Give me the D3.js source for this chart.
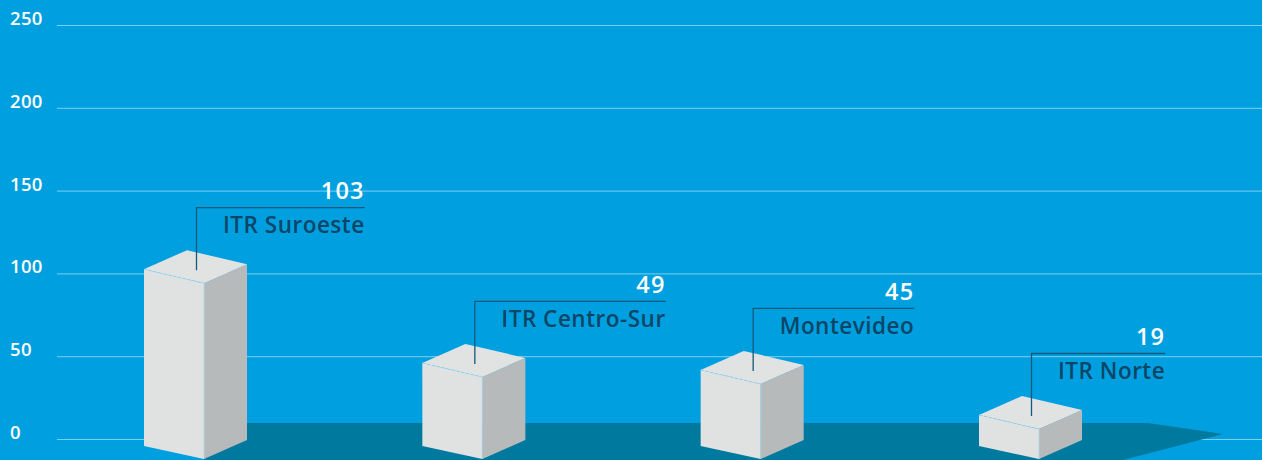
<!DOCTYPE html>
<html>
<head>
<meta charset="utf-8">
<script src="https://cdn.jsdelivr.net/npm/d3@7"></script>
<style>
  html, body { margin: 0; padding: 0; background: #00a0e0; }
  svg { display: block; }
  text { font-family: "Open Sans", Lato, sans-serif; }
</style>
</head>
<body>
<div class="svgContainer"></div>
<script>
/* chart data */
var categories = ["ITR Suroeste", "ITR Centro-Sur", "Montevideo", "ITR Norte"];
var values = [103, 49, 45, 19];
var tick_values = [0, 50, 100, 150, 200, 250];

var canvas_width = 1262,
    canvas_height = 460;

/* colours */
var bg_color = "#00a0e0",
    shadow_color = "#00799f",
    grid_color = "#7ccff2",
    front_color = "#e0e2e2",
    side_color = "#b7babb",
    top_color = "#e1e3e3",
    leader_color = "#16587a",
    label_color = "#0a4667";

/* box dimensions (pseudo 3d) */
var front_w = 60, front_drop = 14,
    side_w = 43, side_rise = 19;

var svg = d3.select(".svgContainer")
  .append("svg")
    .attr("width", canvas_width)
    .attr("height", canvas_height);

svg.append("rect")
  .attr("width", canvas_width)
  .attr("height", canvas_height)
  .attr("fill", bg_color);

/* scales: grid axis, and the slightly taller scale used by the 3d boxes */
var y = d3.scaleLinear()
  .domain([0, 250])
  .range([439, 25]);

var bar_y = d3.scaleLinear()
  .domain([0, 250])
  .range([448, 14]);

var x = d3.scalePoint()
  .domain(categories)
  .range([144, 979]);

/* gridlines + tick labels */
var grid = svg.append("g").attr("class", "grid");
grid.selectAll("line")
  .data(tick_values)
  .enter()
    .append("line")
      .attr("x1", 57)
      .attr("x2", canvas_width)
      .attr("y1", function(d) { return y(d) + 0.5; })
      .attr("y2", function(d) { return y(d) + 0.5; })
      .attr("stroke", grid_color)
      .attr("stroke-width", 1);

grid.selectAll("text")
  .data(tick_values)
  .enter()
    .append("text")
      .attr("x", 10)
      .attr("y", function(d) { return y(d); })
      .attr("fill", "#ffffff")
      .attr("font-size", 18.5)
      .attr("font-weight", 600)
      .attr("letter-spacing", 0.3)
      .text(function(d) { return d; });

/* floor shadow behind the boxes */
var base = y(0) + 7;
var first_x = x(categories[0]),
    last_x = x(categories[categories.length - 1]);
var shadow_top = base - 23;
svg.append("polygon")
  .attr("points", [
    [first_x + front_w, shadow_top],
    [last_x + 169, shadow_top],
    [last_x + 244, shadow_top + 11],
    [last_x + 144, canvas_height],
    [first_x + front_w, canvas_height]
  ].join(" "))
  .attr("fill", shadow_color);

/* boxes */
var bars = svg.selectAll("g.bar")
  .data(values)
  .enter()
    .append("g")
      .attr("class", "bar");

function boxTop(d) { return bar_y(d); }

bars.append("polygon")  // front face
  .attr("points", function(d, i) {
    var x0 = x(categories[i]), t = boxTop(d);
    return [[x0, t], [x0 + front_w, t + front_drop],
            [x0 + front_w, base + front_drop - 1], [x0, base]].join(" ");
  })
  .attr("fill", front_color);

bars.append("polygon")  // side face
  .attr("points", function(d, i) {
    var x0 = x(categories[i]), t = boxTop(d);
    return [[x0 + front_w, t + front_drop], [x0 + front_w + side_w, t + front_drop - side_rise],
            [x0 + front_w + side_w, base + front_drop - 1 - side_rise], [x0 + front_w, base + front_drop - 1]].join(" ");
  })
  .attr("fill", side_color);

bars.append("polygon")  // top face
  .attr("points", function(d, i) {
    var x0 = x(categories[i]), t = boxTop(d);
    return [[x0, t], [x0 + front_w, t + front_drop],
            [x0 + front_w + side_w, t + front_drop - side_rise], [x0 + side_w, t - side_rise]].join(" ");
  })
  .attr("fill", top_color);

bars.append("line")  // dashed edge between top and front
  .attr("x1", function(d, i) { return x(categories[i]); })
  .attr("y1", function(d) { return boxTop(d); })
  .attr("x2", function(d, i) { return x(categories[i]) + front_w; })
  .attr("y2", function(d) { return boxTop(d) + front_drop; })
  .attr("stroke", "#8fd2ef")
  .attr("stroke-width", 1)
  .attr("stroke-dasharray", "3,2");

bars.append("line")  // vertical edge
  .attr("x1", function(d, i) { return x(categories[i]) + front_w; })
  .attr("y1", function(d) { return boxTop(d) + front_drop; })
  .attr("x2", function(d, i) { return x(categories[i]) + front_w; })
  .attr("y2", base + front_drop - 1)
  .attr("stroke", "#a9d9ec")
  .attr("stroke-width", 0.8);

/* leader lines and labels */
var leader_dx = 52, leader_rise = 62;

bars.each(function(d, i) {
  var g = d3.select(this);
  var vx = x(categories[i]) + leader_dx,
      t = boxTop(d),
      hy = t - leader_rise;

  var label = g.append("text")
    .attr("y", hy + 26)
    .attr("fill", label_color)
    .attr("font-size", 22.5)
    .attr("font-weight", 650)
    .attr("letter-spacing", 0.5)
    .attr("text-anchor", "end")
    .text(categories[i]);

  var end_x = vx + label.node().getComputedTextLength() + 27;
  label.attr("x", end_x);

  g.append("text")
    .attr("x", end_x)
    .attr("y", hy - 8)
    .attr("fill", "#ffffff")
    .attr("font-size", 23.5)
    .attr("font-weight", 600)
    .attr("letter-spacing", 1.2)
    .attr("text-anchor", "end")
    .text(d);

  g.append("path")
    .attr("d", "M" + (vx + 0.5) + "," + (t + 1) + "V" + (hy + 0.5) + "H" + end_x)
    .attr("fill", "none")
    .attr("stroke", leader_color)
    .attr("stroke-width", 1.3);
});
</script>
</body>
</html>
